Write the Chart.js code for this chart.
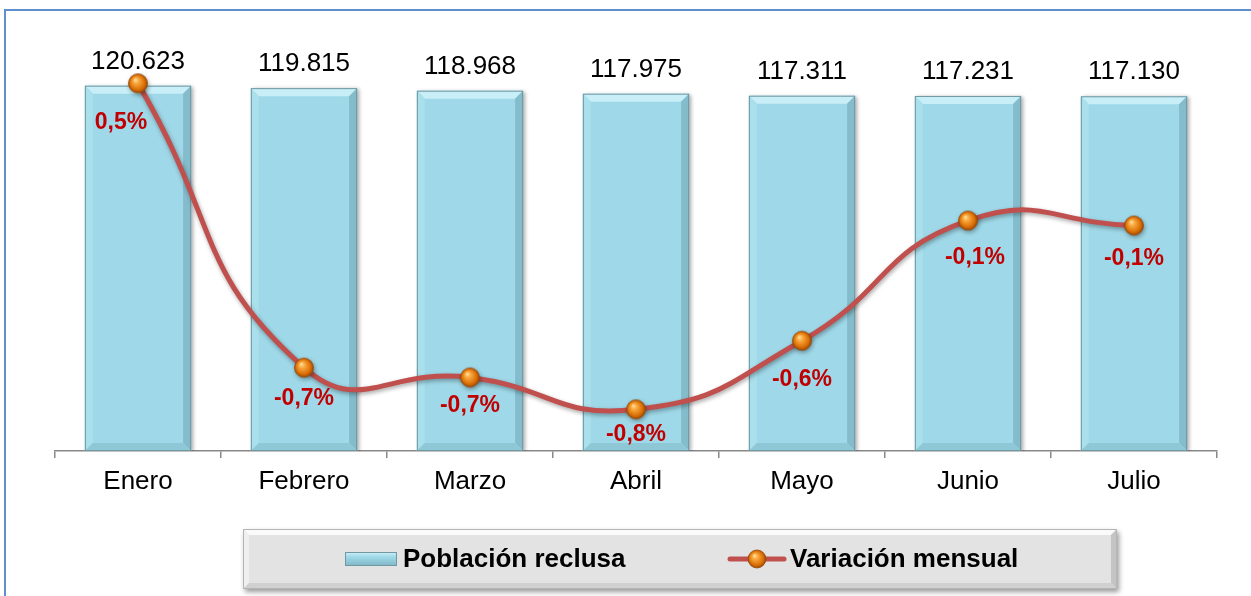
<!DOCTYPE html>
<html>
<head>
    <meta charset="UTF-8">
    <title>Población reclusa - variación mensual</title>
    <script src="https://cdn.jsdelivr.net/npm/chart.js"></script>
    <style>
        html, body { margin: 0; padding: 0; background: #fff; overflow: hidden; }
        .wrap { position: relative; width: 1251px; height: 596px; }
        /* blue frame of the original slide, only left and top edges visible */
        .frame {
            position: absolute; left: 4px; top: 9px; width: 1400px; height: 800px;
            border: 2px solid #5f8fce;
        }
        #chart { position: absolute; left: 0; top: 0; }
    </style>
</head>
<body>
<div class="wrap">
    <div class="frame"></div>
    <canvas id="chart" width="1251" height="596"></canvas>
</div>
<script>
    // Datos
    const meses = ['Enero', 'Febrero', 'Marzo', 'Abril', 'Mayo', 'Junio', 'Julio'];
    const poblacion = [120623, 119815, 118968, 117975, 117311, 117231, 117130];
    const variacion = [0.49, -0.67, -0.71, -0.84, -0.56, -0.07, -0.09];

    const FONT = "'Liberation Sans', Arial, sans-serif";

    // esfera naranja para los marcadores
    function drawSphere(c, x, y, r) {
        const g = c.createRadialGradient(x - r * 0.3, y - r * 0.4, 0, x, y, r * 1.05);
        g.addColorStop(0, '#ffe4a8');
        g.addColorStop(0.3, '#f9a83e');
        g.addColorStop(0.75, '#d96e05');
        g.addColorStop(1, '#8f4304');
        c.beginPath();
        c.arc(x, y, r, 0, Math.PI * 2);
        c.fillStyle = g;
        c.fill();
        c.lineWidth = 0.8;
        c.strokeStyle = '#9a4a0c';
        c.stroke();
    }
    const sphere = document.createElement('canvas');
    sphere.width = 22; sphere.height = 22;
    drawSphere(sphere.getContext('2d'), 11, 11, 9.5);

    const fmtMiles = v => String(v).replace(/\B(?=(\d{3})+(?!\d))/g, '.');
    const fmtPct = v => v.toFixed(1).replace('.', ',') + '%';

    // sombra para barras y linea
    const sombraPlugin = {
        id: 'sombra',
        beforeDatasetDraw(chart, args) {
            const c = chart.ctx;
            c.save();
            if (args.meta.type === 'line') {
                c.shadowColor = 'rgba(0,0,0,0.35)';
                c.shadowBlur = 4; c.shadowOffsetX = 1; c.shadowOffsetY = 2;
            } else {
                c.shadowColor = 'rgba(0,0,0,0.35)';
                c.shadowBlur = 4; c.shadowOffsetX = 2; c.shadowOffsetY = 1;
            }
        },
        afterDatasetDraw(chart, args) {
            chart.ctx.restore();
            if (args.meta.type !== 'bar') return;
            // biselado de las barras
            const c = chart.ctx;
            const b = 8;
            args.meta.data.forEach(el => {
                const l = el.x - el.width / 2, r = el.x + el.width / 2, t = el.y, bo = el.base;
                const poly = (pts, col) => {
                    c.beginPath();
                    c.moveTo(pts[0][0], pts[0][1]);
                    pts.slice(1).forEach(p => c.lineTo(p[0], p[1]));
                    c.closePath();
                    c.fillStyle = col;
                    c.fill();
                };
                poly([[l, t], [r, t], [r - b, t + b], [l + b, t + b]], '#c8eef7');
                poly([[l, t], [l + b, t + b], [l + b, bo - b], [l, bo]], '#aadfec');
                poly([[r, t], [r, bo], [r - b, bo - b], [r - b, t + b]], '#84bccb');
                poly([[l, bo], [l + b, bo - b], [r - b, bo - b], [r, bo]], '#8ec7d6');
                c.lineWidth = 1;
                c.strokeStyle = '#6f98a3';
                c.strokeRect(l + 0.5, t + 0.5, el.width - 1, bo - t - 1);
            });
        }
    };

    // etiquetas de datos
    const etiquetasPlugin = {
        id: 'etiquetas',
        afterDatasetsDraw(chart, args, opts) {
            const c = chart.ctx;
            c.save();
            const barMeta = chart.getDatasetMeta(0);
            c.font = '26px ' + FONT;
            c.fillStyle = '#000';
            c.textAlign = 'center';
            c.textBaseline = 'alphabetic';
            barMeta.data.forEach((el, i) => {
                c.fillText(fmtMiles(poblacion[i]), el.x, el.y - 17);
            });
            const lineMeta = chart.getDatasetMeta(1);
            c.font = 'bold 23px ' + FONT;
            c.fillStyle = '#c00000';
            c.textBaseline = 'middle';
            lineMeta.data.forEach((el, i) => {
                const n = opts.nudge[i] || [0, 32];
                c.fillText(fmtPct(variacion[i]), el.x + n[0], el.y + n[1]);
            });
            c.restore();
        }
    };

    // leyenda dentro de caja gris biselada
    const leyendaPlugin = {
        id: 'leyenda',
        afterDraw(chart) {
            const c = chart.ctx;
            const a = chart.chartArea;
            const x = a.left + 188, y = 529, w = 874, h = 60;
            c.save();
            c.shadowColor = 'rgba(0,0,0,0.4)';
            c.shadowBlur = 5; c.shadowOffsetX = 2; c.shadowOffsetY = 3;
            c.fillStyle = '#e3e3e3';
            c.fillRect(x, y, w, h);
            c.restore();
            c.save();
            const b = 6;
            c.fillStyle = '#fafafa';
            c.beginPath(); c.moveTo(x, y); c.lineTo(x + w, y); c.lineTo(x + w - b, y + b); c.lineTo(x + b, y + b); c.closePath(); c.fill();
            c.fillStyle = '#efefef';
            c.beginPath(); c.moveTo(x, y); c.lineTo(x + b, y + b); c.lineTo(x + b, y + h - b); c.lineTo(x, y + h); c.closePath(); c.fill();
            c.fillStyle = '#c4c4c4';
            c.beginPath(); c.moveTo(x + w, y); c.lineTo(x + w, y + h); c.lineTo(x + w - b, y + h - b); c.lineTo(x + w - b, y + b); c.closePath(); c.fill();
            c.fillStyle = '#d0d0d0';
            c.beginPath(); c.moveTo(x, y + h); c.lineTo(x + b, y + h - b); c.lineTo(x + w - b, y + h - b); c.lineTo(x + w, y + h); c.closePath(); c.fill();
            c.strokeStyle = '#b5b5b5';
            c.lineWidth = 1;
            c.strokeRect(x + 0.5, y + 0.5, w - 1, h - 1);

            const cy = y + 30;
            // muestra barra
            const g = c.createLinearGradient(0, cy - 7, 0, cy + 7);
            g.addColorStop(0, '#d2f1f8');
            g.addColorStop(0.35, '#9fd8e8');
            g.addColorStop(1, '#7fb7c6');
            c.fillStyle = g;
            c.fillRect(x + 102, cy - 7, 52, 14);
            c.strokeStyle = '#6f98a3';
            c.strokeRect(x + 102.5, cy - 6.5, 51, 13);
            c.font = 'bold 26px ' + FONT;
            c.textBaseline = 'middle';
            c.textAlign = 'left';
            const ds = chart.data.datasets;
            c.fillStyle = '#000';
            c.fillText(ds[0].label, x + 160, cy + 1);
            // muestra linea
            c.strokeStyle = ds[1].borderColor;
            c.lineWidth = 5;
            c.lineCap = 'round';
            c.beginPath(); c.moveTo(x + 487, cy); c.lineTo(x + 541, cy); c.stroke();
            drawSphere(c, x + 514, cy, 9);
            c.fillStyle = '#000';
            c.fillText(ds[1].label, x + 547, cy + 1);
            c.restore();
        }
    };

    new Chart(document.getElementById('chart').getContext('2d'), {
        data: {
            labels: meses,
            datasets: [{
                type: 'bar',
                label: 'Población reclusa',
                data: poblacion,
                yAxisID: 'y',
                backgroundColor: '#9fd8e8',
                borderWidth: 0,
                categoryPercentage: 1,
                barPercentage: 0.64,
                order: 2
            }, {
                type: 'line',
                label: 'Variación mensual',
                data: variacion,
                yAxisID: 'y2',
                borderColor: '#c0504d',
                borderWidth: 5,
                tension: 0.5,
                pointStyle: sphere,
                pointRadius: 10,
                order: 1
            }]
        },
        options: {
            responsive: false,
            animation: false,
            layout: { padding: { left: 55, right: 34, top: 27, bottom: 0 } },
            plugins: {
                legend: { display: false },
                tooltip: { enabled: false },
                etiquetas: { nudge: [[-17, 39], [0, 31], [0, 28], [0, 25], [0, 39], [7, 37], [0, 33]] }
            },
            scales: {
                x: {
                    afterFit(scale) { scale.height = 145; },
                    grid: {
                        offset: true, drawOnChartArea: false, tickLength: 7,
                        color: '#888888', lineWidth: 1.5
                    },
                    border: { color: '#888888', width: 1.5 },
                    ticks: { font: { family: FONT, size: 26 }, color: '#000', padding: 8 }
                },
                y: { display: false, min: 0, max: 140000 },
                y2: { display: false, min: -1.01, max: 0.72 }
            }
        },
        plugins: [sombraPlugin, etiquetasPlugin, leyendaPlugin]
    });
</script>
</body>
</html>
